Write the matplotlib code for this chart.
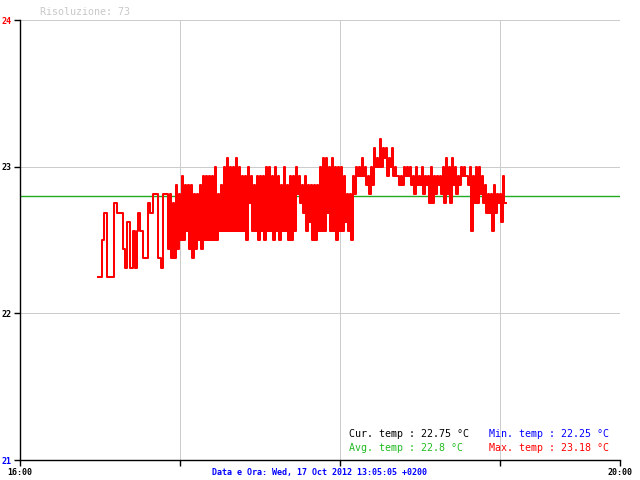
import numpy as np
import matplotlib
matplotlib.use("Agg")
import matplotlib.pyplot as plt

# ---- data (temperature levels in 1/16 °C above 22.25 °C) ----
BASE_TEMP = 22.25
LEVEL_STEP = 0.0625

# sparse early readings: minutes after 16:00 and level index
early_minutes = [29.3, 30.7, 31.6, 32.5, 35.3, 36.5, 38.5, 39.3, 40.2, 41.3, 42.3,
                 43.1, 43.8, 44.2, 45.1, 46.2, 48.1, 48.8, 50.0, 51.8, 52.9, 53.7]
early_levels = [0, 4, 7, 0, 8, 7, 3, 1, 6, 1, 5, 1, 5, 7, 5, 2, 8, 7, 9, 2, 1, 9]

# dense readings, logged at a regular interval from 16:55
dense_start_min = 55.0
dense_interval_min = 0.5625
dense_levels = [
    9, 3, 9, 2, 8, 2, 10, 3, 9, 4, 11, 4, 10, 5, 10, 3, 10, 2, 9, 3,
    9, 4, 10, 3, 11, 4, 11, 4, 11, 4, 11, 4, 12, 4, 9, 5, 10, 5, 12, 5,
    13, 5, 12, 5, 12, 5, 13, 5, 12, 5, 11, 5, 11, 4, 12, 8, 11, 5, 10, 5,
    11, 4, 11, 5, 11, 4, 12, 5, 12, 5, 11, 4, 12, 5, 11, 4, 10, 5, 12, 5,
    10, 4, 11, 4, 11, 5, 12, 9, 11, 8, 10, 7, 11, 5, 10, 6, 10, 4, 10, 4,
    10, 5, 12, 5, 13, 5, 13, 7, 12, 5, 13, 5, 12, 4, 12, 5, 12, 5, 11, 6,
    9, 5, 9, 4, 11, 9,
    12, 11, 12, 11, 13, 11, 12, 10, 11, 9, 12, 10, 14, 12, 13, 12, 15, 12,
    14, 13, 14, 11, 13, 12, 14, 11, 12, 11, 11, 10, 11, 10, 12, 11, 12, 11,
    12, 10, 11, 9, 12, 10, 11, 10, 12, 9, 11, 10, 11, 8, 12, 8, 11, 9,
    11, 10, 11, 9, 12, 8, 13, 9, 12, 8, 13, 10, 12, 9, 11, 10, 12, 11,
    12, 11, 11, 10, 12, 5, 11, 8, 12, 8, 12, 9, 11, 8, 10, 7, 9, 7,
    9, 5, 10, 7, 9, 8, 9, 6, 11, 8, 8,
]

avg_temp = 22.8
cur_temp = 22.75
min_temp = 22.25
max_temp = 23.18

y_ticks = [21, 22, 23, 24]
y_tick_colors = ["#0000ff", "black", "black", "#ff0000"]
x_ticks = [0, 60, 120, 180, 225]
x_tick_labels = ["16:00", "", "", "", "20:00"]

# ---- build series ----
dense_minutes = dense_start_min + dense_interval_min * np.arange(len(dense_levels))
minutes = np.concatenate([early_minutes, dense_minutes])
temps = BASE_TEMP + LEVEL_STEP * np.concatenate([early_levels, dense_levels])

fig = plt.figure(figsize=(6.4, 4.8), dpi=100)
ax = fig.add_axes([20 / 640, 20 / 480, 600 / 640, 440 / 480])
ax.set_xlim(0, 225)
ax.set_ylim(21, 24)

ax.grid(True, color="#cccccc", linewidth=0.72, antialiased=False)
ax.set_axisbelow(True)
for s in ("top", "right"):
    ax.spines[s].set_visible(False)
for s in ("left", "bottom"):
    ax.spines[s].set_color("black")
    ax.spines[s].set_linewidth(1.0)

ax.axhline(avg_temp, color="#22aa22", linewidth=1.0, zorder=2)
ax.plot(minutes, temps, drawstyle="steps-post", color="#ff0000",
        linewidth=1.45, zorder=3)

mono = "DejaVu Sans Mono"
ax.set_yticks(y_ticks)
ax.set_yticklabels([str(t) for t in y_ticks], fontfamily=mono,
                   fontsize=6, fontweight="bold")
for lab, c in zip(ax.get_yticklabels(), y_tick_colors):
    lab.set_color(c)
ax.set_xticks(x_ticks)
ax.set_xticklabels(x_tick_labels, fontfamily=mono, fontsize=6, fontweight="bold")
ax.tick_params(axis="both", direction="out", length=4, width=1, color="black", pad=2)

fig.text(40 / 640, 1 - 15 / 480, "Risoluzione: 73", fontfamily=mono, fontsize=7.2,
         color="#c8c8c8", ha="left", va="baseline")

fig.text(349 / 640, 1 - 437 / 480, f"Cur. temp : {cur_temp} °C", fontfamily=mono,
         fontsize=7.2, color="black", ha="left", va="baseline")
fig.text(489 / 640, 1 - 437 / 480, f"Min. temp : {min_temp} °C", fontfamily=mono,
         fontsize=7.2, color="#0000ff", ha="left", va="baseline")
fig.text(349 / 640, 1 - 451 / 480, f"Avg. temp : {avg_temp} °C", fontfamily=mono,
         fontsize=7.2, color="#22bb22", ha="left", va="baseline")
fig.text(489 / 640, 1 - 451 / 480, f"Max. temp : {max_temp} °C", fontfamily=mono,
         fontsize=7.2, color="#ff0000", ha="left", va="baseline")

fig.text(319 / 640, 1 - 472 / 480, "Data e Ora: Wed, 17 Oct 2012 13:05:05 +0200",
         fontfamily=mono, fontsize=6, fontweight="bold", color="#0000ff",
         ha="center", va="center")

fig.savefig("out.png", dpi=100)
